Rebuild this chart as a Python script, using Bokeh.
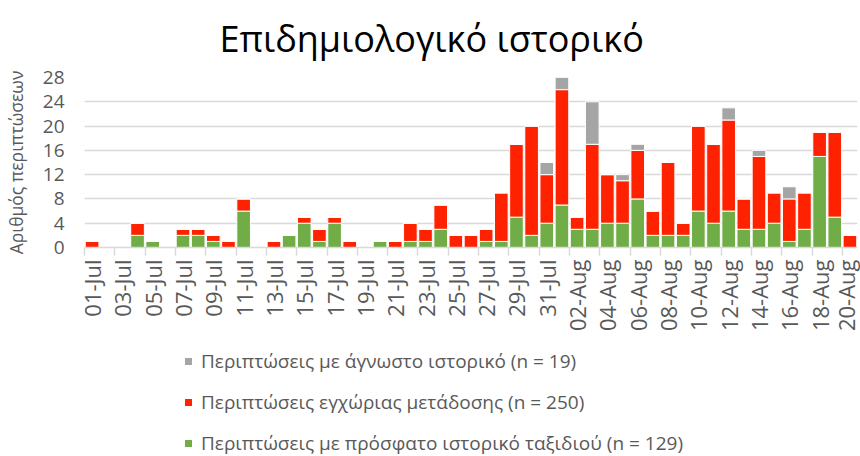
from math import pi
from bokeh.plotting import figure
from bokeh.layouts import column
from bokeh.models import FixedTicker, Legend, LegendItem, Range1d, ColumnDataSource
from bokeh.embed import file_html
from bokeh.resources import INLINE

dates = ["01-Jul", "02-Jul", "03-Jul", "04-Jul", "05-Jul", "06-Jul", "07-Jul", "08-Jul", "09-Jul", "10-Jul",
         "11-Jul", "12-Jul", "13-Jul", "14-Jul", "15-Jul", "16-Jul", "17-Jul", "18-Jul", "19-Jul", "20-Jul",
         "21-Jul", "22-Jul", "23-Jul", "24-Jul", "25-Jul", "26-Jul", "27-Jul", "28-Jul", "29-Jul", "30-Jul",
         "31-Jul", "01-Aug", "02-Aug", "03-Aug", "04-Aug", "05-Aug", "06-Aug", "07-Aug", "08-Aug", "09-Aug",
         "10-Aug", "11-Aug", "12-Aug", "13-Aug", "14-Aug", "15-Aug", "16-Aug", "17-Aug", "18-Aug", "19-Aug",
         "20-Aug"]

travel = [0, 0, 0, 2, 1, 0, 2, 2, 1, 0, 6, 0, 0, 2, 4, 1, 4, 0, 0, 1, 0, 1, 1, 3, 0, 0, 1, 1, 5, 2, 4,
          7, 3, 3, 4, 4, 8, 2, 2, 2, 6, 4, 6, 3, 3, 4, 1, 3, 15, 5, 0]
local = [1, 0, 0, 2, 0, 0, 1, 1, 1, 1, 2, 0, 1, 0, 1, 2, 1, 1, 0, 0, 1, 3, 2, 4, 2, 2, 2, 8, 12, 18, 8,
         19, 2, 14, 8, 7, 8, 4, 12, 2, 14, 13, 15, 5, 12, 5, 7, 6, 4, 14, 2]
unknown = [0, 0, 0, 0, 0, 0, 0, 0, 0, 0, 0, 0, 0, 0, 0, 0, 0, 0, 0, 0, 0, 0, 0, 0, 0, 0, 0, 0, 0, 0, 2,
           2, 0, 7, 0, 1, 1, 0, 0, 0, 0, 0, 2, 0, 1, 0, 2, 0, 0, 0, 0]

y_ticks = [0, 4, 8, 12, 16, 20, 24, 28]

title_text = "Επιδημιολογικό ιστορικό"
y_title = "Αριθμός περιπτώσεων"
series_labels = ["Περιπτώσεις με πρόσφατο ιστορικό ταξιδιού (n = 129)",
                 "Περιπτώσεις εγχώριας μετάδοσης (n = 250)",
                 "Περιπτώσεις με άγνωστο ιστορικό (n = 19)"]
series_colors = ["#70AD47", "#FF2200", "#A5A5A5"]
stack_keys = ["travel", "local", "unknown"]

FONT = "Open Sans"
GREY = "#595959"

idx = list(range(len(dates)))
src = ColumnDataSource(dict(x=idx, travel=travel, local=local, unknown=unknown))

# ---------------- main chart ----------------
p = figure(width=860, height=340, output_backend="svg", toolbar_location=None,
           x_range=Range1d(-0.5, len(dates) - 0.5), y_range=Range1d(0, 28),
           min_border_left=82, min_border_right=3, min_border_top=74, min_border_bottom=93)

rs = p.vbar_stack(stack_keys, x="x", width=0.9, source=src,
                  color=series_colors, line_color="white", line_width=1)

p.title.text = title_text
p.title.text_font = FONT
p.title.text_font_size = "36px"
p.title.text_font_style = "normal"
p.title.text_color = "#000000"
p.title.align = "left"
p.title.vertical_align = "top"
p.title.offset = 135
p.title.standoff = 26

label_ticks = idx[::2]
boundary_ticks = [i - 0.5 for i in idx[::2]]
xa = p.xaxis[0]
xa.ticker = FixedTicker(ticks=label_ticks, minor_ticks=boundary_ticks)
xa.major_label_overrides = {i: dates[i] for i in label_ticks}
xa.major_label_orientation = pi / 2
xa.major_tick_line_color = None
xa.minor_tick_line_color = "#D9D9D9"
xa.minor_tick_line_width = 1.5
xa.minor_tick_out = 8
xa.minor_tick_in = 0
xa.major_tick_out = 4
xa.major_label_standoff = 4
xa.axis_line_color = "#D9D9D9"
xa.axis_line_width = 1.5
xa.major_label_text_font = FONT
xa.major_label_text_font_size = "22px"
xa.major_label_text_color = GREY

ya = p.yaxis[0]
ya.ticker = FixedTicker(ticks=y_ticks)
ya.axis_line_color = None
ya.major_tick_line_color = None
ya.minor_tick_line_color = None
ya.major_tick_out = 0
ya.major_tick_in = 0
ya.major_label_standoff = 20
ya.major_label_text_font = FONT
ya.major_label_text_font_size = "19px"
ya.major_label_text_color = GREY
ya.axis_label = y_title
ya.axis_label_text_font = FONT
ya.axis_label_text_font_size = "17.5px"
ya.axis_label_text_font_style = "normal"
ya.axis_label_text_color = GREY
ya.axis_label_standoff = 12

p.xgrid.visible = False
p.ygrid.ticker = FixedTicker(ticks=y_ticks)
p.ygrid.grid_line_color = "#D9D9D9"
p.ygrid.grid_line_width = 1.5
p.outline_line_color = None

# ---------------- legend strip (bars lie outside its visible range) ----------------
p2 = figure(width=860, height=116, output_backend="svg", toolbar_location=None,
            x_range=Range1d(-0.5, len(dates) - 0.5), y_range=Range1d(1000, 1001),
            x_axis_location=None, y_axis_location=None, min_border=0)
p2.grid.visible = False
p2.outline_line_color = None
ls = p2.vbar_stack(stack_keys, x="x", width=0.9, source=src,
                   color=series_colors, line_color="white", line_width=1)

legend = Legend(items=[LegendItem(label=series_labels[2], renderers=[ls[2]]),
                       LegendItem(label=series_labels[1], renderers=[ls[1]]),
                       LegendItem(label=series_labels[0], renderers=[ls[0]])],
                orientation="vertical", location=(99, 0))
legend.label_text_font = FONT
legend.label_text_font_size = "19px"
legend.label_text_color = GREY
legend.label_height = 24
legend.glyph_width = 10
legend.glyph_height = 10
legend.label_standoff = 8
legend.spacing = 15
legend.margin = 0
legend.padding = 0
legend.border_line_color = None
legend.background_fill_alpha = 0
p2.add_layout(legend, "center")

layout = column(p, p2, spacing=0)
open("out.html", "w").write(file_html(layout, INLINE))
